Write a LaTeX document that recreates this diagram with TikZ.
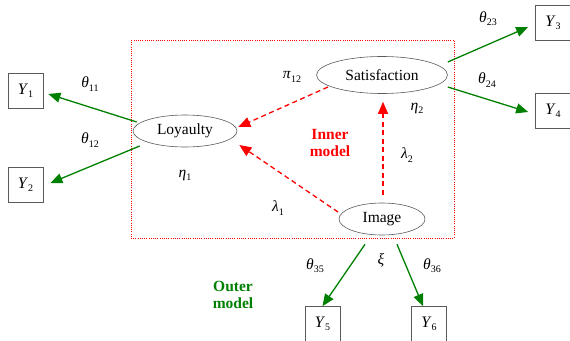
\documentclass[tikz,border=0pt]{standalone}
\usepackage{fontspec}
\setmainfont{Liberation Serif}
\usetikzlibrary{arrows.meta,calc,shapes.geometric}
\definecolor{dgreen}{RGB}{0,128,0}
\definecolor{edgegray}{RGB}{90,90,90}
\newcommand\gsym[2]{\textit{#1}\raisebox{-0.45ex}{\fontsize{10}{10}\selectfont #2}}
\begin{document}
\begin{tikzpicture}[x=1pt,y=-1pt,
  lat/.style={draw=edgegray, line width=0.6pt, ellipse, inner sep=0pt, font=\fontsize{15.5}{16}\selectfont},
  obs/.style={draw=edgegray, line width=0.7pt, minimum width=35pt, minimum height=35pt, inner sep=0pt, font=\fontsize{16}{16}\selectfont},
  garr/.style={draw=dgreen, line width=1.3pt, -{Triangle[length=12pt,width=10pt]}},
  rarr/.style={draw=red, line width=1.3pt, dash pattern=on 5pt off 3.5pt, -{Triangle[length=12pt,width=10pt]}},
  lbl/.style={inner sep=0pt, font=\fontsize{15.5}{16}\selectfont},
  boldlbl/.style={inner sep=0pt, align=center, font=\fontsize{15.5}{17}\selectfont\bfseries}
]
\useasboundingbox (0,0) rectangle (570,340);
\draw[red, line width=0.9pt, dash pattern=on 1pt off 1.2pt] (131,40) rectangle (454,238);

\node[lat, minimum width=104pt, minimum height=32pt] (loy) at (185,131) {Loyaulty};
\node[lat, minimum width=131pt, minimum height=37pt] (sat) at (382,75) {Satisfaction};
\node[lat, minimum width=86pt, minimum height=32pt] (img) at (382,219) {Image};

\node[obs] (y1) at (25.5,91) {\textit{Y}\raisebox{-0.45ex}{\fontsize{10}{10}\selectfont 1}};
\node[obs] (y2) at (25.5,184.5) {\textit{Y}\raisebox{-0.45ex}{\fontsize{10}{10}\selectfont 2}};
\node[obs] (y3) at (553,23) {\textit{Y}\raisebox{-0.45ex}{\fontsize{10}{10}\selectfont 3}};
\node[obs] (y4) at (553,110.5) {\textit{Y}\raisebox{-0.45ex}{\fontsize{10}{10}\selectfont 4}};
\node[obs] (y5) at (322.5,324) {\textit{Y}\raisebox{-0.45ex}{\fontsize{10}{10}\selectfont 5}};
\node[obs] (y6) at (429,324) {\textit{Y}\raisebox{-0.45ex}{\fontsize{10}{10}\selectfont 6}};

\draw[garr] ($(loy.west)+(4,-9)$) -- ($(y1.east)+(5,3)$);
\draw[garr] ($(loy.west)+(7,15)$) -- ($(y2.east)+(7,-1.5)$);
\draw[garr] ($(sat.east)+(0,-13)$) -- ($(y3.west)+(-7,4)$);
\draw[garr] ($(sat.east)+(0,12)$) -- ($(y4.west)+(-7,1.5)$);
\draw[garr] ($(img.south)+(-17,9)$) -- (y5.north);
\draw[garr] ($(img.south)+(15,9)$) -- ($(y6.north)+(-6,0)$);

\draw[rarr] ($(sat.center)+(-54,12)$) -- ($(loy.east)+(1,-4)$);
\draw[rarr] ($(img.center)+(-44,-7)$) -- ($(loy.east)+(2,14)$);
\draw[rarr] ($(img.north)+(1,-8)$) -- ($(sat.south)+(1,8)$);

\node[lbl] (t11) at (90,84) {\gsym{θ}{11}};
\node[lbl] (t12) at (90,140) {\gsym{θ}{12}};
\node[lbl] (e1) at (185,175) {\gsym{η}{1}};
\node[lbl] (t23) at (488,19) {\gsym{θ}{23}};
\node[lbl] (t24) at (487,80) {\gsym{θ}{24}};
\node[lbl] (p12) at (292,77) {\gsym{π}{12}};
\node[lbl] (e2) at (417,108) {\gsym{η}{2}};
\node[lbl] (l2) at (407,155) {\gsym{λ}{2}};
\node[lbl] (l1) at (278,208) {\gsym{λ}{1}};
\node[lbl] (xi) at (381,260) {\textit{ξ}};
\node[lbl] (t35) at (315,266) {\gsym{θ}{35}};
\node[lbl] (t36) at (432,266) {\gsym{θ}{36}};

\node[boldlbl, text=red] (inner) at (330,143) {Inner\\model};
\node[boldlbl, text=dgreen] (outer) at (233,295) {Outer\\model};
\end{tikzpicture}
\end{document}
